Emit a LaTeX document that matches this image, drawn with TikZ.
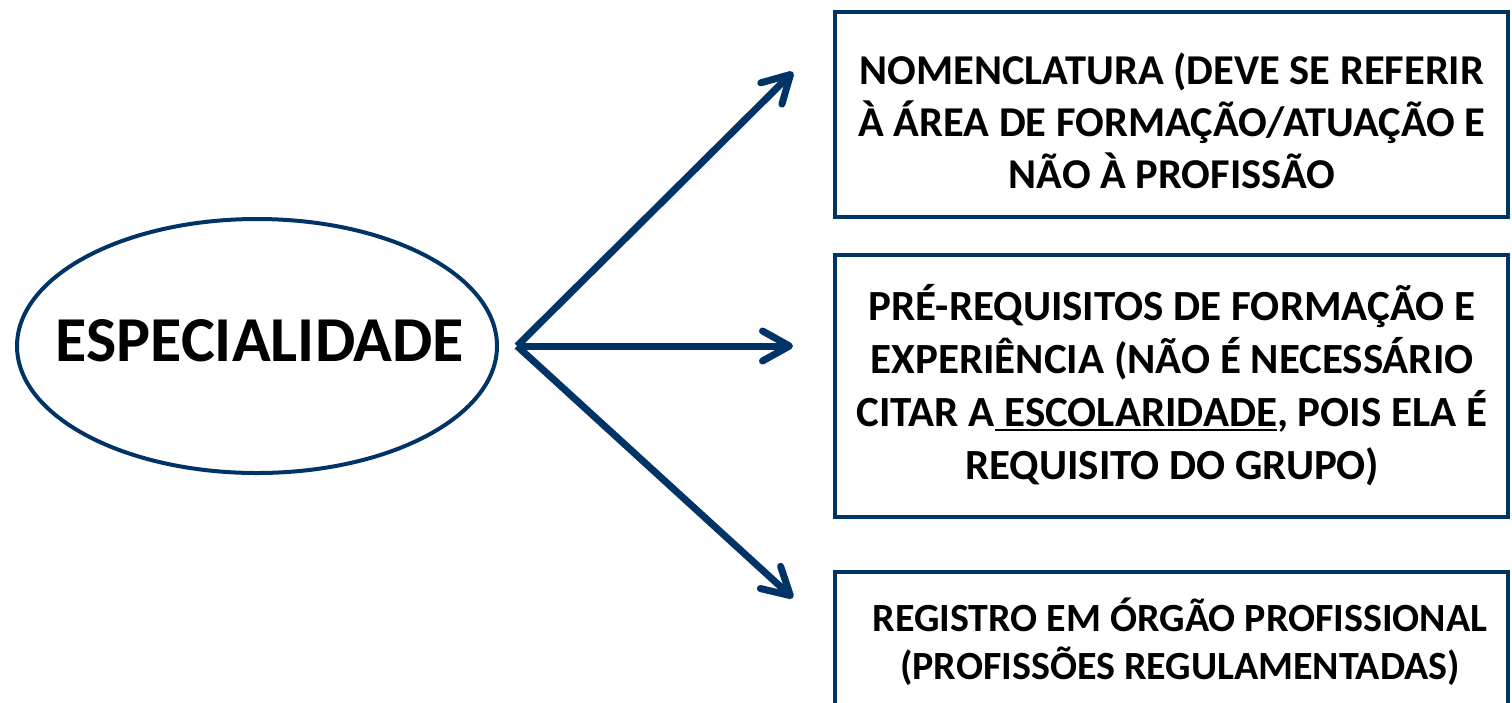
\documentclass[tikz,border=0pt]{standalone}
\usepackage{fontspec}
\setmainfont{Carlito}
\usetikzlibrary{shapes.geometric,arrows.meta}
\definecolor{navy}{HTML}{003366}
\newcommand\myul[1]{\setbox0\hbox{#1}\rlap{\rule[-5pt]{\wd0}{2.5pt}}\box0}
\begin{document}
\begin{tikzpicture}[x=1pt,y=-1pt,
  box/.style={draw=navy,line width=4pt,rectangle,inner sep=0pt},
  btext/.style={align=center,inner sep=0pt},
  conn/.style={draw=navy,line width=7pt,-{Straight Barb[length=27pt,width=30pt,line cap=round,line join=round]}}]
\clip (0,0) rectangle (1512,702);
\fill[white] (0,0) rectangle (1512,702);
\node[ellipse,draw=navy,line width=4pt,minimum width=480pt,minimum height=254pt,inner sep=0pt] (esp) at (257,346) {};
\node[font=\fontsize{64}{70}\selectfont\bfseries,inner sep=0pt] (esptext) at (260,340.5) {ESPECIALIDADE};
\node[box,minimum width=673pt,minimum height=205pt] (b1) at (1171.5,114) {};
\node[box,minimum width=673pt,minimum height=262pt] (b2) at (1171.5,386) {};
\node[box,minimum width=673pt,minimum height=228pt] (b3) at (1171.5,686) {};
\node[btext,font=\fontsize{42.5}{52}\selectfont\bfseries] (t1) at (1172,121) {NOMENCLATURA (DEVE SE REFERIR\\À ÁREA DE FORMAÇÃO/ATUAÇÃO E\\NÃO À PROFISSÃO};
\node[btext,font=\fontsize{43}{53}\selectfont\bfseries] (t2) at (1172,385) {PRÉ-REQUISITOS DE FORMAÇÃO E\\EXPERIÊNCIA (NÃO É NECESSÁRIO\\CITAR A\myul{\ ESCOLARIDADE}, POIS ELA É\\REQUISITO DO GRUPO)};
\node[btext,font=\fontsize{40}{48}\selectfont\bfseries] (t3) at (1180,642) {REGISTRO EM ÓRGÃO PROFISSIONAL\\(PROFISSÕES REGULAMENTADAS)};
\coordinate (hub) at (517,346);
\coordinate (e1) at (793,72);
\coordinate (e2) at (793,346);
\coordinate (e3) at (793,598);
\draw[conn] (hub) -- (e1);
\draw[conn] (hub) -- (e2);
\draw[conn] (hub) -- (e3);
\end{tikzpicture}
\end{document}
